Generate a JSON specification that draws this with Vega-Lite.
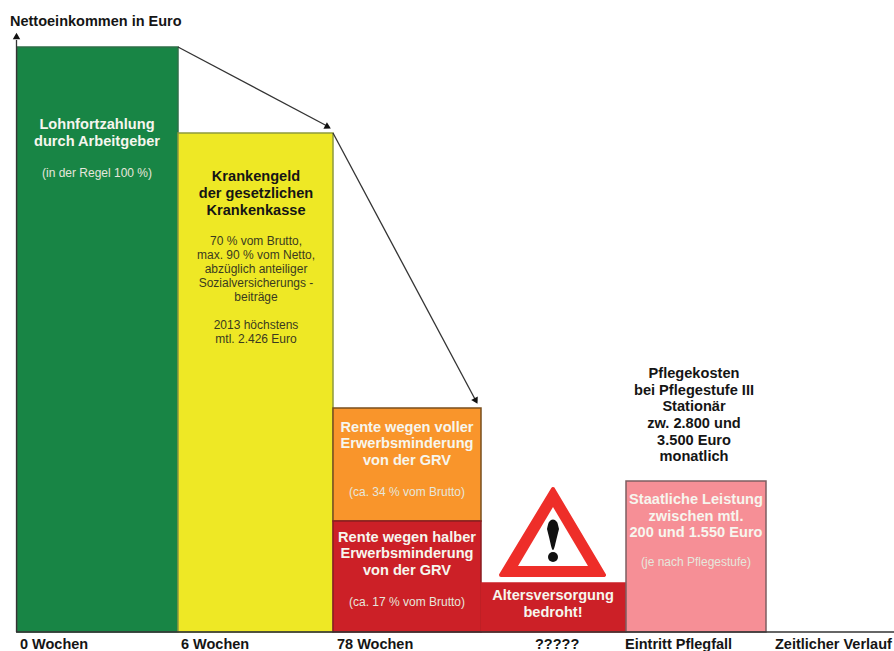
{"$schema":"https://vega.github.io/schema/vega-lite/v6.json","width":894,"height":651,"padding":0,"autosize":{"type":"none"},"background":"white","view":{"stroke":null},
"datasets":{
"boxes":[
{"name":"Lohnfortzahlung","start":17,"end":178,"low":0,"high":585},
{"name":"Krankengeld","start":178,"end":333,"low":0,"high":499},
{"name":"Rente voll","start":333,"end":481,"low":111,"high":224},
{"name":"Rente halb","start":333,"end":481,"low":0,"high":111},
{"name":"Altersversorgung","start":481,"end":626,"low":0,"high":49},
{"name":"Staatliche Leistung","start":626,"end":766,"low":0,"high":151}],
"paths":[
{"path":"y-Achse","t":0,"x":16.5,"y":0},{"path":"y-Achse","t":1,"x":16.5,"y":592},
{"path":"x-Achse","t":0,"x":16,"y":0},{"path":"x-Achse","t":1,"x":894,"y":0},
{"path":"Abfall 1","t":0,"x":178,"y":585},{"path":"Abfall 1","t":1,"x":329,"y":505},
{"path":"Abfall 2","t":0,"x":333,"y":499},{"path":"Abfall 2","t":1,"x":476,"y":231}],
"sign":[
{"part":"a","x":501,"y":57,"y2":57},{"part":"a","x":553,"y":143,"y2":57},{"part":"a","x":604,"y":57,"y2":57},
{"part":"b","x":518,"y":66,"y2":66},{"part":"b","x":553,"y":125,"y2":66},{"part":"b","x":588,"y":66,"y2":66},
{"part":"c","x":547,"y":103,"y2":103},{"part":"c","x":549,"y":110,"y2":95},{"part":"c","x":553,"y":112.5,"y2":82},{"part":"c","x":557,"y":110,"y2":95},{"part":"c","x":559,"y":103,"y2":103}],
"labels":[
{"kind":"bold","tone":"hell","x":97,"y":508,"text":"Lohnfortzahlung"},
{"kind":"bold","tone":"hell","x":97,"y":491,"text":"durch Arbeitgeber"},
{"kind":"small","tone":"hellgrau","x":97,"y":459,"text":"(in der Regel 100 %)"},
{"kind":"bold","tone":"dunkel","x":256,"y":456,"text":"Krankengeld"},
{"kind":"bold","tone":"dunkel","x":256,"y":439,"text":"der gesetzlichen"},
{"kind":"bold","tone":"dunkel","x":256,"y":422,"text":"Krankenkasse"},
{"kind":"small","tone":"dunkelgrau","x":256,"y":391,"text":"70 % vom Brutto,"},
{"kind":"small","tone":"dunkelgrau","x":256,"y":377,"text":"max. 90 % vom Netto,"},
{"kind":"small","tone":"dunkelgrau","x":256,"y":363,"text":"abzüglich anteiliger"},
{"kind":"small","tone":"dunkelgrau","x":256,"y":349,"text":"Sozialversicherungs -"},
{"kind":"small","tone":"dunkelgrau","x":256,"y":335,"text":"beiträge"},
{"kind":"small","tone":"dunkelgrau","x":256,"y":307,"text":"2013 höchstens"},
{"kind":"small","tone":"dunkelgrau","x":256,"y":293,"text":"mtl. 2.426 Euro"},
{"kind":"bold","tone":"hell","x":407,"y":205,"text":"Rente wegen voller"},
{"kind":"bold","tone":"hell","x":407,"y":189,"text":"Erwerbsminderung"},
{"kind":"bold","tone":"hell","x":407,"y":172,"text":"von der GRV"},
{"kind":"small","tone":"hellgrau","x":407,"y":140,"text":"(ca. 34 % vom Brutto)"},
{"kind":"bold","tone":"hell","x":407,"y":95,"text":"Rente wegen halber"},
{"kind":"bold","tone":"hell","x":407,"y":79,"text":"Erwerbsminderung"},
{"kind":"bold","tone":"hell","x":407,"y":62,"text":"von der GRV"},
{"kind":"small","tone":"hellgrau","x":407,"y":30,"text":"(ca. 17 % vom Brutto)"},
{"kind":"bold","tone":"hell","x":553,"y":37,"text":"Altersversorgung"},
{"kind":"bold","tone":"hell","x":553,"y":20,"text":"bedroht!"},
{"kind":"bold","tone":"hell","x":696,"y":133,"text":"Staatliche Leistung"},
{"kind":"bold","tone":"hell","x":696,"y":116,"text":"zwischen mtl."},
{"kind":"bold","tone":"hell","x":696,"y":100,"text":"200 und 1.550 Euro"},
{"kind":"small","tone":"hellgrau","x":696,"y":70,"text":"(je nach Pflegestufe)"},
{"kind":"bold","tone":"dunkel","x":694,"y":259,"text":"Pflegekosten"},
{"kind":"bold","tone":"dunkel","x":694,"y":242,"text":"bei Pflegestufe III"},
{"kind":"bold","tone":"dunkel","x":694,"y":226,"text":"Stationär"},
{"kind":"bold","tone":"dunkel","x":694,"y":209,"text":"zw. 2.800 und"},
{"kind":"bold","tone":"dunkel","x":694,"y":192,"text":"3.500 Euro"},
{"kind":"bold","tone":"dunkel","x":694,"y":176,"text":"monatlich"},
{"kind":"axis","tone":"dunkel","x":10,"y":611,"text":"Nettoeinkommen in Euro"},
{"kind":"axis","tone":"dunkel","x":20,"y":-12,"text":"0 Wochen"},
{"kind":"axis","tone":"dunkel","x":181,"y":-12,"text":"6 Wochen"},
{"kind":"axis","tone":"dunkel","x":337,"y":-12,"text":"78 Wochen"},
{"kind":"axis","tone":"dunkel","x":535,"y":-12,"text":"?????"},
{"kind":"axis","tone":"dunkel","x":625,"y":-12,"text":"Eintritt Pflegfall"},
{"kind":"axis","tone":"dunkel","x":775,"y":-12,"text":"Zeitlicher Verlauf"}]
},
"encoding":{
"x":{"type":"quantitative","scale":{"domain":[0,894],"nice":false,"zero":false},"axis":null},
"y":{"type":"quantitative","scale":{"domain":[-19,632],"nice":false,"zero":false},"axis":null}},
"layer":[
{"data":{"name":"boxes"},"mark":{"type":"rect","strokeWidth":1.5},"encoding":{
"x":{"field":"start","type":"quantitative"},"x2":{"field":"end"},"y":{"field":"low","type":"quantitative"},"y2":{"field":"high"},
"fill":{"field":"name","type":"nominal","legend":null,"scale":{"domain":["Lohnfortzahlung","Krankengeld","Rente voll","Rente halb","Altersversorgung","Staatliche Leistung"],"range":["#188545","#eee825","#f9952b","#cc2027","#cc2027","#f68f96"]}},
"stroke":{"field":"name","type":"nominal","legend":null,"scale":{"domain":["Lohnfortzahlung","Krankengeld","Rente voll","Rente halb","Altersversorgung","Staatliche Leistung"],"range":["#2f6f48","#8f9a3c","#7a4f1e","#8a1c20","#cc2027","#7d5f62"]}}}},
{"data":{"name":"paths"},"mark":{"type":"line","color":"#333333","strokeWidth":1.3},"encoding":{
"x":{"field":"x","type":"quantitative"},"y":{"field":"y","type":"quantitative"},"detail":{"field":"path"},"order":{"field":"t"}}},
{"data":{"values":[{"x":16.5,"y":596}]},"mark":{"type":"point","shape":"triangle-up","filled":true,"color":"#111111","size":55,"opacity":1},"encoding":{"x":{"field":"x","type":"quantitative"},"y":{"field":"y","type":"quantitative"}}},
{"data":{"values":[{"x":328,"y":505}]},"mark":{"type":"point","shape":"triangle-up","filled":true,"color":"#111111","size":55,"opacity":1,"angle":118},"encoding":{"x":{"field":"x","type":"quantitative"},"y":{"field":"y","type":"quantitative"}}},
{"data":{"values":[{"x":476,"y":231}]},"mark":{"type":"point","shape":"triangle-up","filled":true,"color":"#111111","size":55,"opacity":1,"angle":152},"encoding":{"x":{"field":"x","type":"quantitative"},"y":{"field":"y","type":"quantitative"}}},
{"data":{"name":"sign"},"transform":[{"filter":"datum.part==='a'"}],"mark":{"type":"area","color":"#ee2e29","stroke":"#ee2e29","strokeWidth":4,"strokeJoin":"round"},"encoding":{"x":{"field":"x","type":"quantitative"},"y":{"field":"y","type":"quantitative"},"y2":{"field":"y2"}}},
{"data":{"name":"sign"},"transform":[{"filter":"datum.part==='b'"}],"mark":{"type":"area","color":"#ffffff"},"encoding":{"x":{"field":"x","type":"quantitative"},"y":{"field":"y","type":"quantitative"},"y2":{"field":"y2"}}},
{"data":{"name":"sign"},"transform":[{"filter":"datum.part==='c'"}],"mark":{"type":"area","color":"#111111","interpolate":"monotone"},"encoding":{"x":{"field":"x","type":"quantitative"},"y":{"field":"y","type":"quantitative"},"y2":{"field":"y2"}}},
{"data":{"values":[{"x":553,"y":75}]},"mark":{"type":"point","shape":"circle","filled":true,"color":"#111111","size":100,"opacity":1},"encoding":{"x":{"field":"x","type":"quantitative"},"y":{"field":"y","type":"quantitative"}}},
{"data":{"name":"labels"},"transform":[{"filter":"datum.kind==='bold'"}],"mark":{"type":"text","font":"Liberation Sans","fontWeight":"bold","fontSize":14.6,"align":"center","baseline":"middle","dy":1},"encoding":{"x":{"field":"x","type":"quantitative"},"y":{"field":"y","type":"quantitative"},"text":{"field":"text"},
"color":{"field":"tone","type":"nominal","legend":null,"scale":{"domain":["hell","hellgrau","dunkel","dunkelgrau"],"range":["#f6f6ee","#e6e6dc","#151515","#3a3a20"]}}}},
{"data":{"name":"labels"},"transform":[{"filter":"datum.kind==='small'"}],"mark":{"type":"text","font":"Liberation Sans","fontSize":12,"align":"center","baseline":"middle"},"encoding":{"x":{"field":"x","type":"quantitative"},"y":{"field":"y","type":"quantitative"},"text":{"field":"text"},
"color":{"field":"tone","type":"nominal","legend":null,"scale":{"domain":["hell","hellgrau","dunkel","dunkelgrau"],"range":["#f6f6ee","#e6e6dc","#151515","#3a3a20"]}}}},
{"data":{"name":"labels"},"transform":[{"filter":"datum.kind==='axis'"}],"mark":{"type":"text","font":"Liberation Sans","fontWeight":"bold","fontSize":14.5,"align":"left","baseline":"middle","dy":1},"encoding":{"x":{"field":"x","type":"quantitative"},"y":{"field":"y","type":"quantitative"},"text":{"field":"text"},
"color":{"field":"tone","type":"nominal","legend":null,"scale":{"domain":["hell","hellgrau","dunkel","dunkelgrau"],"range":["#f6f6ee","#e6e6dc","#151515","#3a3a20"]}}}}
]}
